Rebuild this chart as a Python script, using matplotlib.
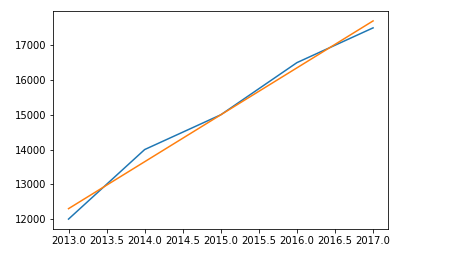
import matplotlib
matplotlib.use("Agg")
import matplotlib.pyplot as plt

years = [2013, 2014, 2015, 2016, 2017]
actual = [12000, 14000, 15000, 16500, 17500]
trend = [12300, 13650, 15000, 16350, 17700]

fig = plt.figure(figsize=(461 / 72, 257 / 72), dpi=72)
ax = fig.add_axes([53.3 / 461, 1 - 229 / 257, 335 / 461, 218 / 257])
ax.plot(years, actual)
ax.plot(years, trend)

fig.savefig("out.png", dpi=72)
